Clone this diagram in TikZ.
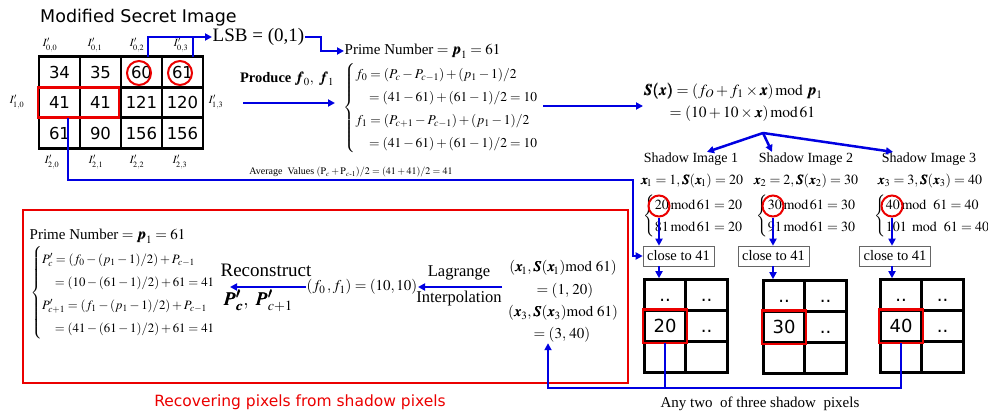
\documentclass[tikz,border=0pt]{standalone}
\usepackage{amsmath}
\usepackage{mathptmx}
\usepackage{bm}
\usepackage{fontspec}
\setmainfont{Liberation Serif}
\newfontfamily\sansf{DejaVu Sans}
\usetikzlibrary{arrows.meta}
\definecolor{bl}{RGB}{0,0,225}
\definecolor{rd}{RGB}{235,0,0}
\newcommand\myfs[2]{\fontsize{#1}{#2}\selectfont}
\tikzset{
  cell/.style={draw=black, line width=2.6pt, minimum width=41pt, minimum height=30.5pt, inner sep=0pt,
    text height=12pt, text depth=0pt, font=\sansf\myfs{16.5}{18}},
  scell/.style={draw=black, line width=2.6pt, minimum width=41.5pt, minimum height=31pt, inner sep=0pt,
    text height=12pt, text depth=0pt, font=\sansf\myfs{18}{20}},
  lab/.style={font=\myfs{11}{12}, inner sep=0pt},
  txt/.style={inner sep=0.5pt},
  rcirc/.style={circle, draw=rd, line width=2pt, minimum size=#1, inner sep=0pt},
  rcirc/.default=21pt,
  rbox/.style={draw=rd, line width=2.6pt},
  bline/.style={draw=bl, line width=2.5pt},
  barrow/.style={bline, -{Triangle[length=7pt,width=7pt]}},
  closebox/.style={draw=black!60, line width=0.6pt, minimum width=71pt, minimum height=20pt, inner sep=0pt, font=\myfs{14.5}{16}},
}
\begin{document}
\begin{tikzpicture}[x=1pt,y=-1pt]
\useasboundingbox (0,0) rectangle (988,412);

% title
\node[anchor=west, font=\sansf\myfs{17.5}{19}, inner sep=0pt] (title) at (40,18) {Modified Secret Image};

% big grid
\node[cell] (a00) at (59.5,72) {34};
\node[cell] (a01) at (100.5,72) {35};
\node[cell] (a02) at (141.5,72) {60};
\node[cell] (a03) at (182.5,72) {61};
\node[cell] (a10) at (59.5,102.5) {41};
\node[cell] (a11) at (100.5,102.5) {41};
\node[cell] (a12) at (141.5,102.5) {121};
\node[cell] (a13) at (182.5,102.5) {120};
\node[cell] (a20) at (59.5,133) {61};
\node[cell] (a21) at (100.5,133) {90};
\node[cell] (a22) at (141.5,133) {156};
\node[cell] (a23) at (182.5,133) {156};

% pixel labels
\node[lab] (l00) at (50,45) {$I'_{0,0}$};
\node[lab] (l01) at (95,45) {$I'_{0,1}$};
\node[lab] (l02) at (137,45) {$I'_{0,2}$};
\node[lab] (l03) at (181,45) {$I'_{0,3}$};
\node[lab] (l10) at (17,102) {$I'_{1,0}$};
\node[lab] (l13) at (216,102) {$I'_{1,3}$};
\node[lab] (l20) at (52,162) {$I'_{2,0}$};
\node[lab] (l21) at (96,162) {$I'_{2,1}$};
\node[lab] (l22) at (137,162) {$I'_{2,2}$};
\node[lab] (l23) at (180,162) {$I'_{2,3}$};

% red marks on grid
\node[rcirc=24pt] (c60) at (139,73) {};
\node[rcirc=24pt] (c61) at (180,73) {};
\draw[rbox] (38,87.5) rectangle (119,117.5);

% LSB
\node[txt, anchor=west, font=\myfs{19}{20}] (lsb) at (212,37) {LSB = (0,1)};
\coordinate (up60) at (148,57);
\coordinate (up61) at (193,57);
\draw[barrow] (up60) -- (148,37) -- (lsb.west);
\draw[bline] (up61) -- (193,37);

% prime number
\node[txt, anchor=west, font=\myfs{15}{16}] (prime) at (344,51) {Prime Number${}=\bm{p}_1=61$};
\draw[barrow] (lsb.east) -- (321,37) -- (321,51) -- (prime.west);

% produce
\node[txt, font=\bfseries\myfs{14.5}{16}] (produce) at (287,79) {Produce $\bm{f}_0,\ \bm{f}_1$};
\coordinate (prodL) at (243,103);
\coordinate (prodR) at (335,103);
\draw[barrow] (prodL) -- (prodR);

% f0 f1 equations
\node[txt, anchor=west, font=\myfs{13.5}{23}] (feq) at (343,108) {$\left\{\begin{array}{@{}l@{}}
 f_0=(P_c-P_{c-1})+(p_1-1)/2\\
 \quad=(41-61)+(61-1)/2=10\\
 f_1=(P_{c+1}-P_{c-1})+(p_1-1)/2\\
 \quad=(41-61)+(61-1)/2=10
 \end{array}\right.$};

% S(x)
\node[txt, anchor=west, font=\myfs{15.5}{17}] (sx1) at (643,91) {$\bm{S(x)}=(f_O+f_1\times \bm{x})\,\mathrm{mod}\ \bm{p}_1$};
\node[txt, anchor=west, font=\myfs{15.5}{17}] (sx2) at (669,114) {$=(10+10\times \bm{x})\,\mathrm{mod}\,61$};
\coordinate (fR) at (543,106);
\draw[barrow] (fR) -- (sx1.west |- fR) ;

% shadow images
\coordinate (split) at (763,133);
\node[txt, font=\myfs{14}{16}] (sh1) at (691,159) {Shadow Image 1};
\node[txt, font=\myfs{14}{16}] (sh2) at (806,159) {Shadow Image 2};
\node[txt, font=\myfs{14}{16}] (sh3) at (929,159) {Shadow Image 3};
\draw[barrow] (split) -- ([xshift=16pt]sh1.north);
\draw[barrow] (split) -- ([xshift=-34pt]sh2.north);
\draw[barrow] (split) -- ([xshift=-36pt]sh3.north);

\node[txt, font=\myfs{14}{16}] (xv1) at (692,181) {$\bm{x}_{\!1}=1,\bm{S}(\bm{x}_{\!1})=20$};
\node[txt, font=\myfs{14}{16}] (xv2) at (806,181) {$\bm{x}_2=2,\bm{S}(\bm{x}_2)=30$};
\node[txt, font=\myfs{14}{16}] (xv3) at (930,181) {$\bm{x}_3=3,\bm{S}(\bm{x}_3)=40$};

\node[txt, anchor=west, font=\myfs{14}{22}] (m1) at (643,216) {$\left\{\begin{array}{@{}l@{}}20\,\mathrm{mod}\,61=20\\81\,\mathrm{mod}\,61=20\end{array}\right.$};
\node[txt, anchor=west, font=\myfs{14}{22}] (m2) at (756,216) {$\left\{\begin{array}{@{}l@{}}30\,\mathrm{mod}\,61=30\\91\,\mathrm{mod}\,61=30\end{array}\right.$};
\node[txt, anchor=west, font=\myfs{14}{22}] (m3) at (874,216) {$\left\{\begin{array}{@{}l@{}}40\,\mathrm{mod}\ \ 61=40\\101\ \,\mathrm{mod}\ \ 61=40\end{array}\right.$};

\node[rcirc] (r20) at (659,206) {};
\node[rcirc] (r30) at (773,206) {};
\node[rcirc] (r40) at (892,206) {};

% close to 41
\node[closebox] (cb1) at (678.5,256) {close to 41};
\node[closebox] (cb2) at (773.5,256) {close to 41};
\node[closebox] (cb3) at (895,256) {close to 41};

\draw[barrow] (r20.south) -- (r20.south |- cb1.north);
\draw[barrow] (r30.south) -- (r30.south |- cb2.north);
\draw[barrow] (r40.south) -- (r40.south |- cb3.north);

% small grids
\node[scell] (g100) at (665,295) {..};
\node[scell] (g101) at (706.5,295) {..};
\node[scell] (g110) at (665,326) {20};
\node[scell] (g111) at (706.5,326) {..};
\node[scell] (g120) at (665,357) {};
\node[scell] (g121) at (706.5,357) {};
\draw[rbox] (g110.north west) rectangle (g110.south east);

\node[scell] (g200) at (784,296) {..};
\node[scell] (g201) at (825.5,296) {..};
\node[scell] (g210) at (784,327) {30};
\node[scell] (g211) at (825.5,327) {..};
\node[scell] (g220) at (784,358) {};
\node[scell] (g221) at (825.5,358) {};
\draw[rbox] (g210.north west) rectangle (g210.south east);

\node[scell] (g300) at (901,295) {..};
\node[scell] (g301) at (942.5,295) {..};
\node[scell] (g310) at (901,326) {40};
\node[scell] (g311) at (942.5,326) {..};
\node[scell] (g320) at (901,357) {};
\node[scell] (g321) at (942.5,357) {};
\draw[rbox] (g310.north west) rectangle (g310.south east);

\draw[barrow] (r20 |- cb1.south) -- (r20 |- g100.north);
\draw[barrow] (r30 |- cb2.south) -- (r30 |- g200.north);
\draw[barrow] (r40 |- cb3.south) -- (r40 |- g300.north);

% average values
\node[txt, font=\myfs{10}{11}] (avg) at (351,172) {Average\ \ Values $(\mathrm{P}_c+\mathrm{P}_{c\text{-}1})/2=(41+41)/2=41$};
\coordinate (avgS) at (68,118);
\draw[barrow] (avgS) -- (68,180) -- (633,180) -- (633,256) -- (cb1.west);

% recovering box
\draw[rd, line width=2.6pt] (23,210) rectangle (628,383);
\node[txt, font=\sansf\myfs{15.5}{17}, text=rd] (rec) at (300,402) {Recovering pixels from shadow pixels};
\node[txt, font=\myfs{15}{17}] (any) at (760,404) {Any two\ \ of\ three\ shadow\ \ pixels};

\node[txt, anchor=west, font=\myfs{15}{16}] (prime2) at (29,236) {Prime Number${}=\bm{p}_1=61$};
\node[txt, anchor=west, font=\myfs{12.8}{23}] (peq) at (30,293) {$\left\{\begin{array}{@{}l@{}}
 P'_c=(f_0-(p_1-1)/2)+P_{c-1}\\
 \quad=(10-(61-1)/2)+61=41\\
 P'_{c+1}=(f_1-(p_1-1)/2)+P_{c-1}\\
 \quad=(41-(61-1)/2)+61=41
 \end{array}\right.$};

\node[txt, font=\myfs{19}{20}] (recon) at (266,270) {Reconstruct};
\node[txt, font=\myfs{19}{20}] (pp) at (258,301) {$\bm{P'_c},\ \bm{P'_{c+1}}$};
\node[txt, anchor=west, font=\myfs{15}{17}] (ff) at (306,287) {$(f_0\,,f_1)=(10,10)$};
\coordinate (reconL) at (230,287);
\draw[barrow] (ff.west) -- (reconL);

\node[txt, font=\myfs{16.5}{18}] (lag) at (459,273) {Lagrange};
\node[txt, font=\myfs{16.5}{18}] (interp) at (459,299) {Interpolation};
\coordinate (lagR) at (502,287);
\draw[barrow] (lagR) -- (ff.east);

\node[txt, font=\myfs{15}{17}] (xs1) at (563,268) {$(\bm{x}_{\!1},\bm{S}(\bm{x}_{\!1})\mathrm{mod}\ 61)$};
\node[txt, font=\myfs{15}{17}] (xs2) at (565,291) {$=(1,\,20)$};
\node[txt, font=\myfs{15}{17}] (xs3) at (563,313) {$(\bm{x}_3,\bm{S}(\bm{x}_3)\mathrm{mod}\ 61)$};
\node[txt, font=\myfs{15}{17}] (xs4) at (562,335) {$=(3,\,40)$};

% bottom connectors
\coordinate (join) at (665,388);
\draw[bline] (g110.south) -- (join) -| (g310.south);
\draw[barrow] (join) -| ([xshift=-14pt]xs4.south);
\end{tikzpicture}
\end{document}
